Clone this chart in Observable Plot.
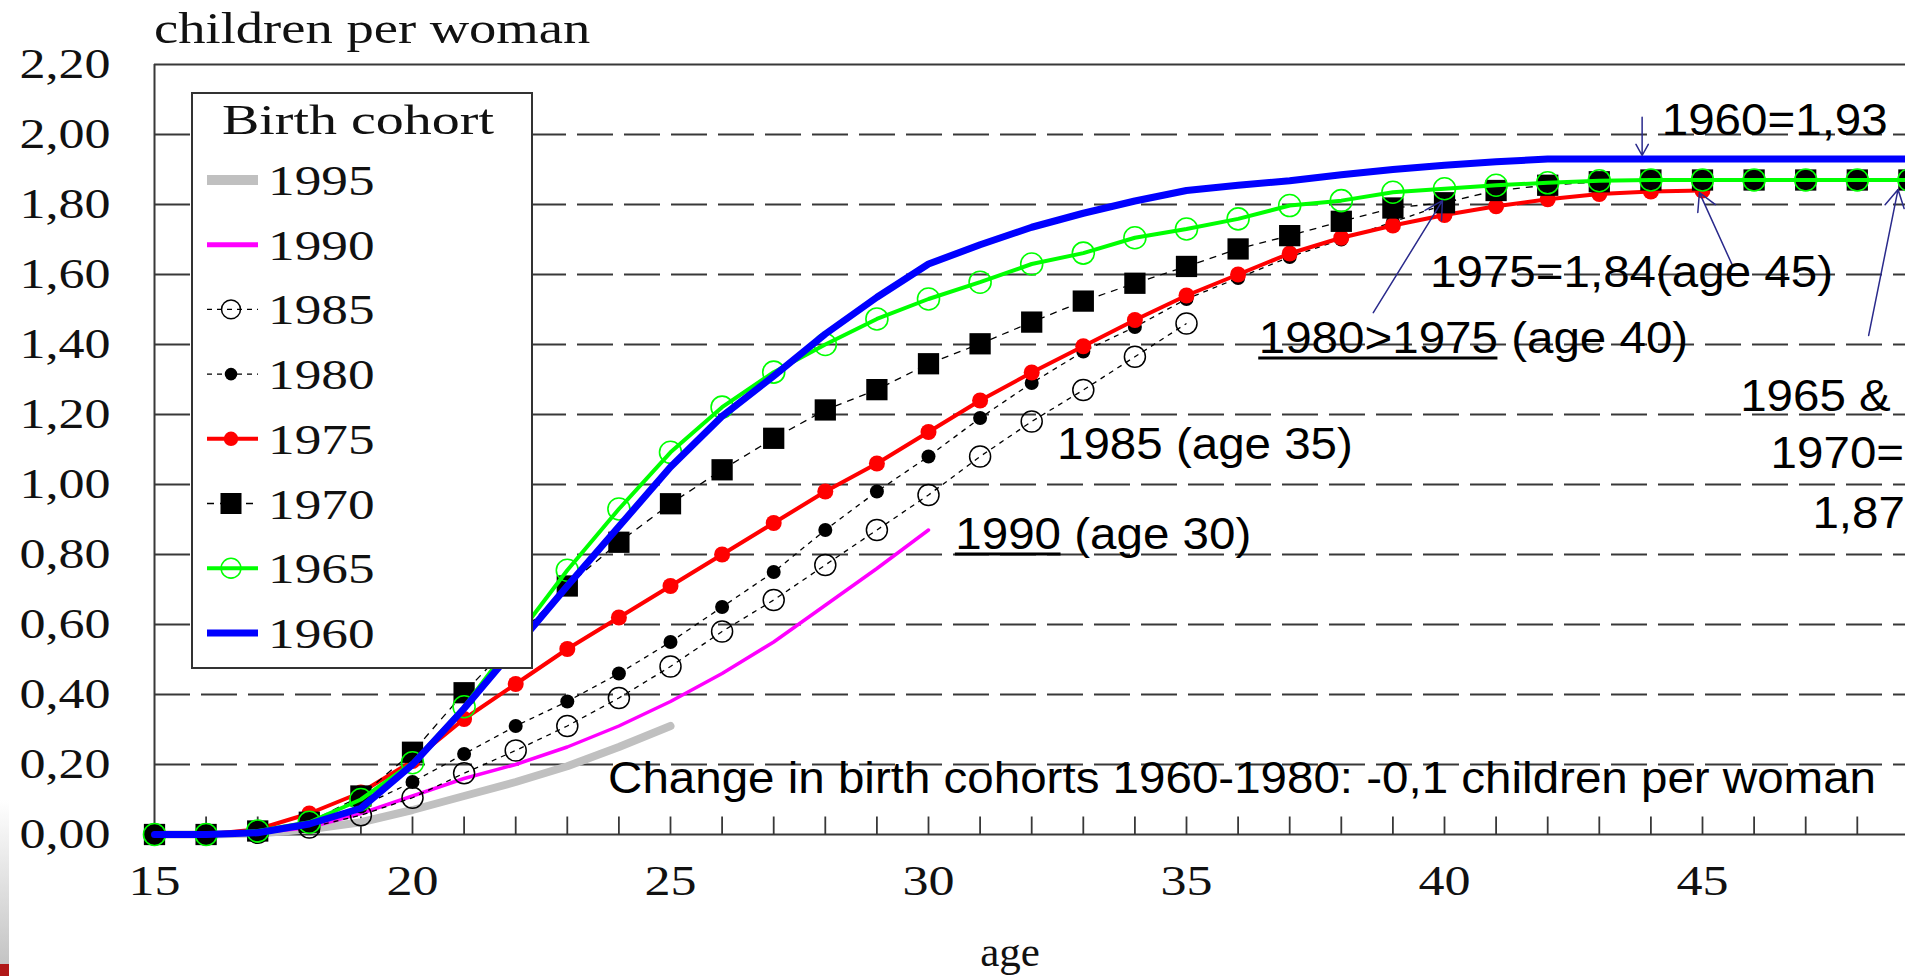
<!DOCTYPE html>
<html>
<head>
<meta charset="utf-8">
<script src="https://cdn.jsdelivr.net/npm/d3@7"></script>
<script src="https://cdn.jsdelivr.net/npm/@observablehq/plot@0.6"></script>
<style>
html, body { margin: 0; padding: 0; background: #fff; overflow: hidden; }
#wrap { position: relative; width: 1905px; height: 976px; overflow: hidden; }
#wrap svg { max-width: none !important; display: block; }
#strip { position: absolute; left: 0; top: 800px; width: 9px; height: 176px;
  background: linear-gradient(to bottom, #ffffff, #c4c4c4 93%, #b01818 93%); }
</style>
</head>
<body>
<div id="wrap"><div id="strip"></div></div>
<script>
// ---------- data ----------
const ages = [15,16,17,18,19,20,21,22,23,24,25,26,27,28,29,30,31,32,33,34,35,36,37,38,39,40,41,42,43,44,45,46,47,48,49];
const cohorts = ["1995","1990","1985","1980","1975","1970","1965","1960"];

const c1995 = [0,0,0.003,0.015,0.035,0.07,0.11,0.15,0.195,0.25,0.31];
const c1990 = [0,0,0.004,0.02,0.06,0.11,0.16,0.20,0.25,0.31,0.38,0.46,0.55,0.655,0.76,0.87];
const c1985 = [0,0,0.005,0.02,0.055,0.105,0.175,0.24,0.31,0.39,0.48,0.58,0.67,0.77,0.87,0.97,1.08,1.18,1.27,1.365,1.46];
const c1980 = [0,0,0.005,0.03,0.08,0.15,0.23,0.31,0.38,0.46,0.55,0.65,0.75,0.87,0.98,1.08,1.19,1.29,1.38,1.45,1.53,1.59,1.65,1.70,1.75,1.80];
const c1975 = [0,0,0.015,0.06,0.12,0.21,0.33,0.43,0.53,0.62,0.71,0.80,0.89,0.98,1.06,1.15,1.24,1.32,1.395,1.47,1.54,1.60,1.66,1.705,1.74,1.77,1.795,1.815,1.83,1.837,1.84];
const c1970 = [0,0,0.01,0.035,0.11,0.235,0.405,0.56,0.71,0.835,0.945,1.042,1.132,1.213,1.271,1.345,1.402,1.464,1.524,1.575,1.623,1.673,1.711,1.752,1.79,1.805,1.84,1.855,1.865,1.87,1.87,1.87,1.87,1.87,1.87];
const c1965 = [0,0,0.01,0.035,0.10,0.205,0.365,0.56,0.755,0.93,1.092,1.221,1.321,1.40,1.473,1.53,1.578,1.63,1.661,1.705,1.73,1.759,1.797,1.811,1.835,1.845,1.855,1.862,1.868,1.87,1.87,1.87,1.87,1.87,1.87];
const c1960 = [0,0,0.005,0.03,0.075,0.20,0.36,0.535,0.71,0.88,1.05,1.195,1.31,1.43,1.535,1.63,1.685,1.735,1.775,1.81,1.84,1.855,1.868,1.885,1.90,1.912,1.922,1.93,1.93,1.93,1.93,1.93,1.93,1.93,1.93];

const yTicks = [0,0.2,0.4,0.6,0.8,1.0,1.2,1.4,1.6,1.8,2.0,2.2];
const gridValues = [0.2,0.4,0.6,0.8,1.0,1.2,1.4,1.6,1.8,2.0];
const xLabels = [15,20,25,30,35,40,45];
const minorTicks = [16,17,18,19,20,21,22,23,24,25,26,27,28,29,30,31,32,33,34,35,36,37,38,39,40,41,42,43,44,45,46,47,48,49];

const notes = [
  {text: "1960=1,93", age: 44.21, value: 2.0},
  {text: "1975=1,84(age 45)", age: 39.72, value: 1.563},
  {text: "1980>1975 (age 40)", age: 36.40, value: 1.377},
  {text: "1965 &", age: 45.73, value: 1.211},
  {text: "1970=", age: 46.32, value: 1.046},
  {text: "1,87", age: 47.13, value: 0.877},
  {text: "1985 (age 35)", age: 32.49, value: 1.073},
  {text: "1990 (age 30)", age: 30.52, value: 0.817},
  {text: "Change in birth cohorts 1960-1980: -0,1 children per woman", age: 23.79, value: 0.118}
];
const arrows = [
  {x1: 43.83, y1: 2.049, x2: 43.83, y2: 1.94},
  {x1: 45.58, y1: 1.626, x2: 44.94, y2: 1.834},
  {x1: 38.62, y1: 1.491, x2: 39.96, y2: 1.811},
  {x1: 48.22, y1: 1.426, x2: 48.79, y2: 1.843}
];

// ---------- styles ----------
const seriesValues = {"1995": c1995, "1990": c1990, "1985": c1985, "1980": c1980, "1975": c1975, "1970": c1970, "1965": c1965, "1960": c1960};
const styles = {
  "1995": {stroke: "#c0c0c0", width: 8},
  "1990": {stroke: "#ff00ff", width: 3.5},
  "1985": {stroke: "#000", width: 1.3, dash: "5,5", symbol: "circle", r: 10.5, fill: "none", mstroke: "#000", mwidth: 1.5},
  "1980": {stroke: "#000", width: 1.3, dash: "5,5", symbol: "circle", r: 7, fill: "#000", mstroke: "none", mwidth: 0},
  "1975": {stroke: "#ff0000", width: 4, symbol: "circle", r: 8, fill: "#ff0000", mstroke: "none", mwidth: 0},
  "1970": {stroke: "#000", width: 1.3, dash: "7,6", symbol: "square", r: 12, fill: "#000", mstroke: "none", mwidth: 0},
  "1965": {stroke: "#00ff00", width: 4, symbol: "circle", r: 11, fill: "none", mstroke: "#00ff00", mwidth: 1.6},
  "1960": {stroke: "#0000ff", width: 7}
};
const underlineChars = {"1980>1975 (age 40)": 9, "1990 (age 30)": 4};
const SERIF = "'Liberation Serif', 'Times New Roman', serif";
const SANS = "'Liberation Sans', Arial, sans-serif";
const GRID = "#383838";
const NAVY = "#2a2a8c";

const rowsOf = c => seriesValues[c].map((v, i) => ({age: ages[i], value: v}));
const tickSymbol = {draw(ctx) { ctx.moveTo(0, 0); ctx.lineTo(0, -18); }};
const fmt = d => d.toFixed(2).replace(".", ",");

const seriesMarks = [];
for (const c of cohorts) {
  const s = styles[c];
  seriesMarks.push(Plot.line(rowsOf(c), {
    x: "age", y: "value", stroke: s.stroke, strokeWidth: s.width,
    strokeDasharray: s.dash, strokeLinecap: s.dash ? "butt" : "round"
  }));
  if (s.symbol) {
    seriesMarks.push(Plot.dot(rowsOf(c), {
      x: "age", y: "value", symbol: s.symbol, r: s.r,
      fill: s.fill, stroke: s.mstroke, strokeWidth: s.mwidth
    }));
  }
}

const plot = Plot.plot({
  width: 1960, height: 976,
  marginLeft: 154, marginRight: 0, marginTop: 64, marginBottom: 142,
  x: {domain: [15, 50]},
  y: {domain: [0, 2.2]},
  style: {fontFamily: SERIF, background: "white", maxWidth: "none"},
  marks: [
    Plot.ruleY(gridValues, {stroke: GRID, strokeWidth: 2, strokeDasharray: "36,11"}),
    Plot.ruleY([0, 2.2], {stroke: GRID, strokeWidth: 2}),
    Plot.ruleX([15], {stroke: GRID, strokeWidth: 2}),
    Plot.dot(minorTicks, {x: d => d, y: d => 0, symbol: tickSymbol, fill: "none", stroke: GRID, strokeWidth: 1.8}),
    Plot.axisY(yTicks, {tickSize: 0, tickPadding: 44, tickFormat: fmt, fontSize: 42, label: null, fill: "#111"}),
    Plot.axisX(xLabels, {tickSize: 0, tickPadding: 31, fontSize: 42, label: null, fill: "#111"}),
    ...seriesMarks,
    Plot.arrow(arrows, {x1: "x1", y1: "y1", x2: "x2", y2: "y2", stroke: NAVY, strokeWidth: 1.5, headLength: 20, headAngle: 58}),
    Plot.text(notes, {x: "age", y: "value", text: "text", textAnchor: "start", lineAnchor: "bottom",
      fontFamily: SANS, fontSize: 44, fill: "#000"})
  ]
});

document.getElementById("wrap").append(plot);
const svg = d3.select(plot);
const xs = plot.scale("x"), ys = plot.scale("y");

function stretch(node, ratio) {
  const w = node.getComputedTextLength();
  node.setAttribute("textLength", (w * ratio).toFixed(1));
  node.setAttribute("lengthAdjust", "spacingAndGlyphs");
}

// axis labels are drawn wide in the original
svg.selectAll('g[aria-label="y-axis tick label"] text, g[aria-label="x-axis tick label"] text').each(function() { stretch(this, 1.24); });

// annotations: slight widening, underlines through the plot's scales
const over = svg.append("g").attr("text-anchor", "start");
const noteNodes = svg.selectAll('g[aria-label="text"] text').nodes();
noteNodes.forEach((node, i) => {
  const d = notes[i];
  if (!d) return;
  const n = underlineChars[d.text];
  if (n) {
    const sub = node.getSubStringLength(0, n) * 1.08;
    const x0 = xs.apply(d.age), y0 = ys.apply(d.value) + 6;
    over.append("line").attr("x1", x0).attr("x2", x0 + sub).attr("y1", y0).attr("y2", y0)
      .attr("stroke", "#000").attr("stroke-width", 3);
  }
  stretch(node, 1.08);
});

// y title and x title
over.append("text").attr("x", 154).attr("y", 43).attr("font-family", SERIF).attr("font-size", 44)
  .attr("fill", "#111").attr("text-anchor", "start").text("children per woman")
  .each(function() { stretch(this, 1.24); });
over.append("text").attr("x", 1010).attr("y", 966).attr("text-anchor", "middle").attr("font-family", SERIF)
  .attr("font-size", 43).attr("fill", "#111").text("age");

// legend box
const lg = over.append("g").attr("aria-label", "legend");
lg.append("rect").attr("x", 192).attr("y", 93).attr("width", 340).attr("height", 575)
  .attr("fill", "white").attr("stroke", "#333").attr("stroke-width", 2);
lg.append("text").attr("x", 358).attr("y", 134).attr("text-anchor", "middle")
  .attr("font-family", SERIF).attr("font-size", 43).attr("fill", "#111")
  .attr("textLength", 272).attr("lengthAdjust", "spacingAndGlyphs").text("Birth cohort");
cohorts.forEach((c, i) => {
  const s = styles[c];
  const base = 195 + i * 64.7;
  const ym = base - 15;
  lg.append("line").attr("x1", 207).attr("x2", 258).attr("y1", ym).attr("y2", ym)
    .attr("stroke", s.stroke).attr("stroke-width", c === "1995" ? 10 : (c === "1990" ? 5 : s.width))
    .attr("stroke-dasharray", s.dash || null);
  if (s.symbol === "circle") {
    lg.append("circle").attr("cx", 231).attr("cy", ym).attr("r", s.r * 0.9)
      .attr("fill", s.fill).attr("stroke", s.mstroke).attr("stroke-width", s.mwidth);
  } else if (s.symbol === "square") {
    lg.append("rect").attr("x", 231 - 10.5).attr("y", ym - 10.5).attr("width", 21).attr("height", 21).attr("fill", s.fill);
  }
  lg.append("text").attr("x", 268).attr("y", base).attr("text-anchor", "start").attr("font-family", SERIF).attr("font-size", 43)
    .attr("fill", "#111").text(c).each(function() { stretch(this, 1.24); });
});
</script>
</body>
</html>
